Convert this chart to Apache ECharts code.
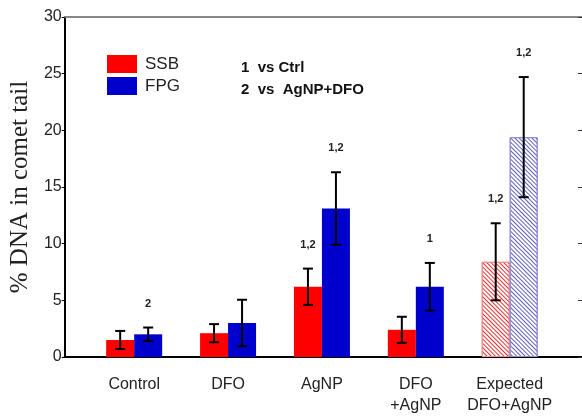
<!DOCTYPE html>
<html>
<head>
<meta charset="utf-8">
<script src="https://cdn.jsdelivr.net/npm/echarts@6/dist/echarts.min.js"></script>
<style>html,body{margin:0;padding:0;background:#fff}#c{width:582px;height:416px}</style>
</head>
<body>
<div id="c"></div>
<script>
// ---- data ----
const categories = ['Control', 'DFO', 'AgNP', 'DFO\n+AgNP', 'Expected\nDFO+AgNP'];
const positions = [1, 2, 3, 4, 5];
const ssbValues = [1.5, 2.1, 6.2, 2.4, 8.4];
const ssbErrors = [0.8, 0.8, 1.6, 1.15, 3.4];
const fpgValues = [2.0, 3.0, 13.1, 6.2, 19.4];
const fpgErrors = [0.6, 2.05, 3.2, 2.1, 5.3];
const ssbMarks = ['', '', '1,2', '', '1,2'];
const fpgMarks = ['2', '', '1,2', '1', '1,2'];
const expectedIndex = 4;
const yTicks = [0, 5, 10, 15, 20, 25, 30];

const FONT = '"Liberation Sans", Arial, sans-serif';
const RED = '#ff0000', BLUE = '#0000cc';
const HALF = 14;

function barData(values, hatchColor, borderColor) {
  return values.map((v, i) => {
    const item = { value: [positions[i], v] };
    if (i === expectedIndex) {
      item.itemStyle = {
        color: '#ffffff',
        borderColor: borderColor,
        borderWidth: 1,
        decal: { symbol: 'rect', symbolSize: 1, rotation: Math.PI / 4, dashArrayX: [1, 0], dashArrayY: [1, 2], color: hatchColor }
      };
    }
    return item;
  });
}

function errData(values, errors, side) {
  return values.map((v, i) => [positions[i], v, errors[i], side]);
}

function makeErrSeries(values, errors, marks, side) {
  return {
    type: 'custom',
    xAxisIndex: 0, yAxisIndex: 0,
    data: errData(values, errors, side),
    z: 5,
    silent: true,
    renderItem: function (params, api) {
      const x = api.value(0), v = api.value(1), e = api.value(2);
      const top = api.coord([x, v + e]);
      const bot = api.coord([x, v - e]);
      const cx = top[0] + side * HALF;
      const cap = 5;
      const style = { stroke: '#000', lineWidth: 2 };
      const children = [
        { type: 'line', shape: { x1: cx, y1: top[1], x2: cx, y2: bot[1] }, style },
        { type: 'line', shape: { x1: cx - cap, y1: top[1], x2: cx + cap, y2: top[1] }, style },
        { type: 'line', shape: { x1: cx - cap, y1: bot[1], x2: cx + cap, y2: bot[1] }, style }
      ];
      const mark = marks[params.dataIndex];
      if (mark) {
        children.push({
          type: 'text',
          style: { text: mark, x: cx, y: top[1] - 24, align: 'center', verticalAlign: 'middle',
                   font: 'bold 11px ' + FONT, fill: '#222' }
        });
      }
      return { type: 'group', children };
    }
  };
}

const chart = echarts.init(document.getElementById('c'), null, { renderer: 'canvas' });
chart.setOption({
  animation: false,
  backgroundColor: '#ffffff',
  grid: { left: 62, top: 17, width: 522, height: 341, containLabel: false },
  legend: {
    data: ['SSB', 'FPG'],
    orient: 'vertical', left: 102, top: 50,
    itemWidth: 30, itemHeight: 18, itemGap: 4,
    icon: 'rect',
    textStyle: { fontFamily: FONT, fontSize: 17, color: '#222', padding: [0, 0, 0, 3] },
    selectedMode: false
  },
  xAxis: [{
    type: 'value', min: 0.26, max: 5.77,
    axisLine: { show: true, onZero: false, lineStyle: { color: '#000', width: 2 } },
    axisTick: { show: false },
    splitLine: { show: false },
    axisLabel: {
      customValues: positions,
      formatter: function (val) { return categories[positions.indexOf(Math.round(val))] || ''; },
      fontFamily: FONT, fontSize: 16, color: '#222', margin: 17, lineHeight: 21
    }
  }, {
    type: 'value', min: 0.26, max: 5.77, position: 'top',
    axisLine: { show: true, onZero: false, lineStyle: { color: '#888', width: 2 } },
    axisTick: { show: false }, axisLabel: { show: false }, splitLine: { show: false }
  }],
  yAxis: [{
    type: 'value', min: yTicks[0], max: yTicks[yTicks.length - 1], interval: 5,
    name: '% DNA in comet tail', nameLocation: 'middle', nameGap: 22,
    nameTextStyle: { fontFamily: '"Liberation Serif", "Times New Roman", serif', fontSize: 25, color: '#222' },
    axisLine: { show: true, lineStyle: { color: '#000', width: 2 } },
    axisTick: { show: true, length: 3, lineStyle: { color: '#000' } },
    splitLine: { show: false },
    axisLabel: { fontFamily: FONT, fontSize: 16, color: '#222', margin: 3 }
  }, {
    type: 'value', min: yTicks[0], max: yTicks[yTicks.length - 1], interval: 5, position: 'right',
    axisLine: { show: false },
    axisTick: { show: true, inside: true, length: 4, lineStyle: { color: '#333' } },
    axisLabel: { show: false }, splitLine: { show: false }
  }],
  series: [
    { name: 'SSB', type: 'bar', xAxisIndex: 0, yAxisIndex: 0, barWidth: 28, barGap: '0%',
      itemStyle: { color: RED }, data: barData(ssbValues, '#e83030', '#f09090') },
    { name: 'FPG', type: 'bar', xAxisIndex: 0, yAxisIndex: 0, barWidth: 28, barGap: '0%',
      itemStyle: { color: BLUE }, data: barData(fpgValues, '#6060c0', '#9090d0') },
    makeErrSeries(ssbValues, ssbErrors, ssbMarks, -1),
    makeErrSeries(fpgValues, fpgErrors, fpgMarks, 1)
  ],
  graphic: [
    { type: 'text', left: 241, top: 60, style: { text: '1  vs Ctrl', font: 'bold 15px ' + FONT, fill: '#111' } },
    { type: 'text', left: 241, top: 82, style: { text: '2  vs  AgNP+DFO', font: 'bold 15px ' + FONT, fill: '#111' } }
  ]
});
</script>
</body>
</html>
